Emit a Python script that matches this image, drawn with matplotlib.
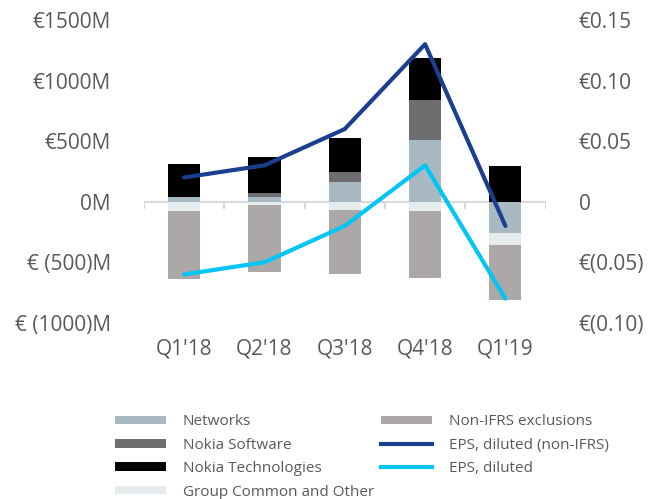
import matplotlib as mpl
mpl.use('agg')
import matplotlib.pyplot as plt
from matplotlib.patches import Patch
from matplotlib.lines import Line2D
import numpy as np

plt.rcParams['font.family'] = ['Open Sans', 'DejaVu Sans']

QUARTERS = ["Q1'18", "Q2'18", "Q3'18", "Q4'18", "Q1'19"]

# operating profit contribution, EUR million
NETWORKS = [40, 40, 165, 510, -255]
NOKIA_SOFTWARE = [0, 35, 80, 330, 0]
NOKIA_TECH = [270, 290, 280, 345, 295]
GROUP_COMMON = [-75, -30, -65, -80, -105]
NON_IFRS_EXCL = [-565, -550, -530, -550, -450]

# EPS, EUR
EPS_NON_IFRS = [0.02, 0.03, 0.06, 0.13, -0.02]
EPS_DILUTED = [-0.06, -0.05, -0.02, 0.03, -0.08]

LEFT_TICKS = [-1000, -500, 0, 500, 1000, 1500]
LEFT_LABELS = ['€ (1000)M', '€ (500)M', '0M', '€500M', '€1000M', '€1500M']
RIGHT_TICKS = [-0.10, -0.05, 0, 0.05, 0.10, 0.15]
RIGHT_LABELS = ['€(0.10)', '€(0.05)', '0', '€0.05', '€0.10', '€0.15']

SERIES = [
    ('Networks', NETWORKS, '#A8B9C3'),
    ('Nokia Software', NOKIA_SOFTWARE, '#6E6E70'),
    ('Nokia Technologies', NOKIA_TECH, '#000000'),
    ('Group Common and Other', GROUP_COMMON, '#E6EBED'),
    ('Non-IFRS exclusions', NON_IFRS_EXCL, '#ACA8A7'),
]
C_EPS_NON = '#1B3F8F'
C_EPS = '#00C5F5'
TXT = '#595959'


def main():
    fig = plt.figure(figsize=(6.53, 4.99), dpi=100)
    ax = fig.add_axes([0.2205, 0.353, 0.615, 0.607])
    x = np.arange(len(QUARTERS))

    # stack positives upward and negatives downward, like Excel does
    pos = np.zeros(len(x))
    neg = np.zeros(len(x))
    for name, vals, color in SERIES:
        vals = np.array(vals, dtype=float)
        bottom = np.where(vals >= 0, pos, neg)
        ax.bar(x, vals, 0.4, bottom=bottom, color=color, zorder=2)
        pos += np.where(vals >= 0, vals, 0)
        neg += np.where(vals < 0, vals, 0)

    ax.set_xlim(-0.5, len(x) - 0.5)
    ax.set_ylim(-1000, 1500)

    # category axis drawn at zero with ticks between categories
    ax.axhline(0, color='#D9D9D9', lw=1.5, zorder=1)
    ax.vlines(np.arange(len(x) + 1) - 0.5, -58, 0, color='#D9D9D9', lw=1.5, zorder=1)

    for side in ['top', 'bottom', 'left', 'right']:
        ax.spines[side].set_visible(False)
    ax.set_xticks(x)
    ax.set_xticklabels(QUARTERS)
    ax.tick_params(axis='x', length=0, pad=11, labelsize=15, labelcolor=TXT)
    ax.set_yticks(LEFT_TICKS)
    ax.set_yticklabels(LEFT_LABELS)
    ax.tick_params(axis='y', length=0, pad=24, labelsize=15, labelcolor=TXT)

    ax2 = ax.twinx()
    ax2.set_ylim(-0.10, 0.15)
    for side in ['top', 'bottom', 'left', 'right']:
        ax2.spines[side].set_visible(False)
    ax2.plot(x, EPS_NON_IFRS, color=C_EPS_NON, lw=3, solid_capstyle='round', zorder=3)
    ax2.plot(x, EPS_DILUTED, color=C_EPS, lw=3, solid_capstyle='round', zorder=3)
    ax2.set_yticks(RIGHT_TICKS)
    ax2.set_yticklabels(RIGHT_LABELS)
    ax2.tick_params(axis='y', length=0, pad=24, labelsize=15, labelcolor=TXT)

    handles = [Patch(facecolor=c, edgecolor='none') for _, _, c in SERIES[:4]]
    handles += [Patch(facecolor=SERIES[4][2], edgecolor='none'),
                Line2D([], [], color=C_EPS_NON, lw=3),
                Line2D([], [], color=C_EPS, lw=3)]
    labels = [s[0] for s in SERIES[:4]] + [SERIES[4][0], 'EPS, diluted (non-IFRS)', 'EPS, diluted']
    leg = fig.legend(handles, labels, loc='upper left', bbox_to_anchor=(0.165, 0.185),
                     ncol=2, frameon=False, fontsize=11, handlelength=3.3,
                     handleheight=0.5, handletextpad=1.1, labelspacing=0.55,
                     columnspacing=0.5, borderpad=0)
    for t in leg.get_texts():
        t.set_color(TXT)

    fig.savefig('out.png', dpi=100)


if __name__ == '__main__':
    main()
